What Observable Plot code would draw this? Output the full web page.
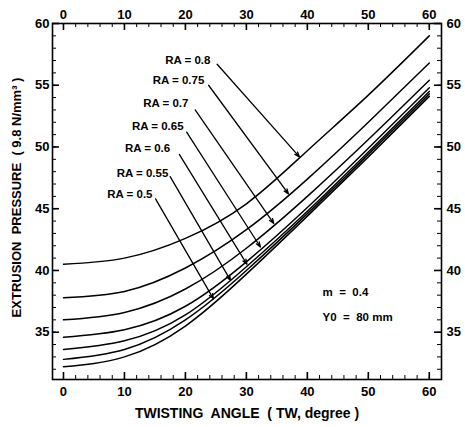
<!DOCTYPE html>
<html>
<head>
<meta charset="utf-8">
<script src="https://cdn.jsdelivr.net/npm/d3@7"></script>
<script src="https://cdn.jsdelivr.net/npm/@observablehq/plot@0.6"></script>
<style>
  body { margin: 0; background: #fff; }
</style>
</head>
<body>
<div id="chart"></div>
<script>
// ---- data ----
const twistAngles = [0, 10, 20, 30, 40, 50, 60];
const raLevels = ["0.8", "0.75", "0.7", "0.65", "0.6", "0.55", "0.5"];
const pressure_08  = [40.5, 41.0, 42.6, 45.4, 49.7, 54.2, 59.0];
const pressure_075 = [37.8, 38.3, 40.2, 43.3, 47.4, 52.0, 56.8];
const pressure_07  = [36.0, 36.6, 38.5, 41.8, 46.0, 50.6, 55.4];
const pressure_065 = [34.6, 35.2, 37.1, 40.7, 45.1, 49.9, 54.8];
const pressure_06  = [33.6, 34.3, 36.4, 40.3, 44.8, 49.6, 54.5];
const pressure_055 = [32.8, 33.6, 36.0, 40.0, 44.6, 49.4, 54.3];
const pressure_05  = [32.2, 33.0, 35.5, 39.7, 44.4, 49.2, 54.1];
const seriesValues = [pressure_08, pressure_075, pressure_07, pressure_065, pressure_06, pressure_055, pressure_05];

// annotation label anchors (data units) and arrow ends (data units)
const labelX = [24.1, 23.1, 20.5, 19.7, 17.5, 17.2, 14.6];
const labelY = [57.0, 55.4, 53.5, 51.7, 49.9, 47.9, 46.2];
const arrowStartX = [25.2, 23.8, 21.6, 20.2, 19.0, 17.5, 15.1];
const arrowStartY = [56.7, 55.0, 53.0, 51.2, 49.4, 47.6, 45.8];
const arrowTipX = [38.7, 36.9, 34.5, 32.3, 30.1, 27.4, 24.6];
const arrowTipY = [49.2, 46.2, 43.8, 41.9, 40.5, 39.2, 37.7];

const xMajor = [0, 10, 20, 30, 40, 50, 60];
const xMinor = d3.range(0, 61, 2);
const yMajor = [35, 40, 45, 50, 55, 60];
const yMinor = d3.range(32, 61, 1);

const notes = ["m  =  0.4", "Y0  =  80 mm"];
const noteX = [42.5, 42.5];
const noteY = [38.2, 36.2];

const xTitle = "TWISTING  ANGLE  ( TW, degree )";
const yTitle = "EXTRUSION  PRESSURE  ( 9.8 N/mm³ )";

// ---- build tables ----
const rows = [];
raLevels.forEach((ra, i) => {
  twistAngles.forEach((tw, j) => rows.push({ra, tw, p: seriesValues[i][j]}));
});
const annots = raLevels.map((ra, i) => ({
  text: "RA = " + ra,
  lx: labelX[i], ly: labelY[i],
  x1: arrowStartX[i], y1: arrowStartY[i],
  x2: arrowTipX[i], y2: arrowTipY[i]
}));
const noteRows = notes.map((t, i) => ({t, x: noteX[i], y: noteY[i]}));

const W = 465, H = 427;
const mL = 52, mR = 24, mT = 23, mB = 48;
const fw = W - mL - mR, fh = H - mT - mB;

const chart = Plot.plot({
  width: W,
  height: H,
  marginLeft: mL,
  marginRight: mR,
  marginTop: mT,
  marginBottom: mB,
  style: {fontFamily: "'Liberation Sans', Arial, sans-serif", fontSize: "13px", color: "black", background: "white"},
  x: {domain: [-1.8, 62]},
  y: {domain: [31.17, 60]},
  marks: [
    // curves
    Plot.line(rows, {x: "tw", y: "p", z: "ra", curve: "natural", stroke: "black", strokeWidth: 1.5}),
    // minor ticks
    Plot.ruleX(xMinor, {x: d => d, insetTop: fh - 4, stroke: "black", strokeWidth: 1}),
    Plot.ruleX(xMinor, {x: d => d, insetBottom: fh - 4, stroke: "black", strokeWidth: 1}),
    Plot.ruleY(yMinor, {y: d => d, insetRight: fw - 4, stroke: "black", strokeWidth: 1}),
    Plot.ruleY(yMinor, {y: d => d, insetLeft: fw - 4, stroke: "black", strokeWidth: 1}),
    // major ticks
    Plot.ruleX(xMajor, {x: d => d, insetTop: fh - 7, stroke: "black", strokeWidth: 1.6}),
    Plot.ruleX(xMajor, {x: d => d, insetBottom: fh - 7, stroke: "black", strokeWidth: 1.6}),
    Plot.ruleY(yMajor, {y: d => d, insetRight: fw - 7, stroke: "black", strokeWidth: 1.6}),
    Plot.ruleY(yMajor, {y: d => d, insetLeft: fw - 7, stroke: "black", strokeWidth: 1.6}),
    Plot.frame({stroke: "black", strokeWidth: 1.6}),
    // tick labels
    Plot.axisX({anchor: "bottom", ticks: xMajor, tickSize: 0, tickPadding: 7, label: null, fontWeight: "bold", fontSize: 13}),
    Plot.axisX({anchor: "top", ticks: xMajor, tickSize: 0, tickPadding: 5, label: null, fontWeight: "bold", fontSize: 13}),
    Plot.axisY({anchor: "left", ticks: yMajor, tickSize: 0, tickPadding: 3, label: null, fontWeight: "bold", fontSize: 13}),
    Plot.axisY({anchor: "right", ticks: yMajor, tickSize: 0, tickPadding: 5, label: null, fontWeight: "bold", fontSize: 13}),
    // annotations
    Plot.arrow(annots, {x1: "x1", y1: "y1", x2: "x2", y2: "y2", stroke: "black", strokeWidth: 1.3, headLength: 6, headAngle: 40}),
    Plot.text(annots, {x: "lx", y: "ly", text: "text", textAnchor: "end", fontWeight: "bold", fontSize: 11.5, fill: "black"}),
    Plot.text(noteRows, {x: "x", y: "y", text: "t", textAnchor: "start", fontWeight: "bold", fontSize: 11.5, fill: "black"}),
    // axis titles
    Plot.text([xTitle], {frameAnchor: "bottom", textAnchor: "middle", dy: 38, text: d => d, fontWeight: "bold", fontSize: 14, fill: "black"}),
    Plot.text([yTitle], {frameAnchor: "left", textAnchor: "middle", dx: -36, dy: -4, rotate: -90, text: d => d, fontWeight: "bold", fontSize: 13, fill: "black"})
  ]
});
document.getElementById("chart").appendChild(chart);
</script>
</body>
</html>
